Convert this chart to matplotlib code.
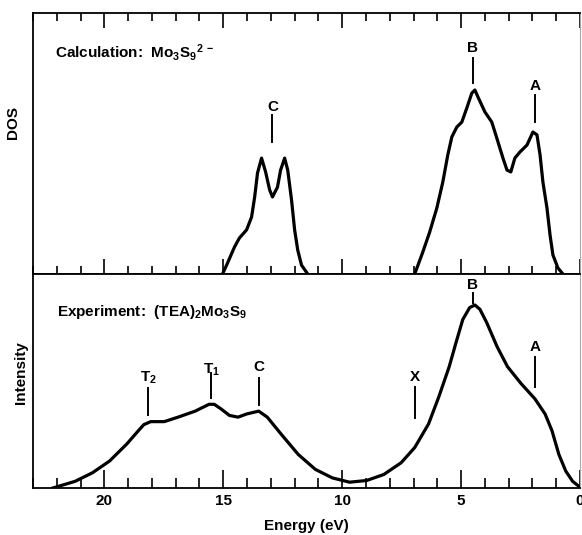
import matplotlib
matplotlib.use("Agg")
import matplotlib.pyplot as plt
from matplotlib.ticker import MultipleLocator

plt.rcParams['font.family'] = ['Liberation Sans', 'DejaVu Sans']
plt.rcParams['font.weight'] = 'bold'
plt.rcParams['mathtext.fontset'] = 'custom'
plt.rcParams['mathtext.rm'] = 'Liberation Sans:bold'
plt.rcParams['mathtext.it'] = 'Liberation Sans:bold'
plt.rcParams['mathtext.bf'] = 'Liberation Sans:bold'
plt.rcParams['mathtext.default'] = 'rm'

# ---- Calculation (DOS) ----
calc_C_E = [15.03, 14.82, 14.53, 14.32, 14.02, 13.81, 13.68, 13.56, 13.39, 13.22, 13.05, 12.93,
            12.72, 12.59, 12.42, 12.29, 12.13, 12.0, 11.87, 11.71, 11.45]
calc_C_y = [0.0, 0.042, 0.103, 0.138, 0.169, 0.218, 0.295, 0.387, 0.444, 0.391, 0.322, 0.295,
            0.333, 0.398, 0.444, 0.398, 0.284, 0.169, 0.092, 0.034, 0.0]
calc_BA_E = [6.95, 6.61, 6.32, 6.02, 5.77, 5.56, 5.39, 5.18, 4.97, 4.76, 4.55, 4.42, 4.29, 4.0,
             3.71, 3.5, 3.24, 3.07, 2.91, 2.74, 2.53, 2.23, 1.98, 1.81, 1.68, 1.56, 1.39, 1.26,
             1.14, 0.93, 0.72]
calc_BA_y = [0.0, 0.084, 0.161, 0.253, 0.352, 0.456, 0.525, 0.563, 0.582, 0.636, 0.693, 0.705,
             0.678, 0.621, 0.582, 0.521, 0.444, 0.398, 0.391, 0.444, 0.467, 0.494, 0.544, 0.533,
             0.456, 0.352, 0.253, 0.149, 0.073, 0.023, 0.0]

# ---- Experiment (Intensity) ----
exp_E = [22.16, 21.23, 20.5, 19.78, 19.06, 18.63, 18.34, 18.05, 17.48, 16.9, 16.18, 15.6, 15.38,
         15.1, 14.74, 14.38, 14.01, 13.51, 13.15, 12.57, 11.85, 11.13, 10.41, 9.69, 8.97, 8.25,
         7.52, 6.95, 6.37, 5.94, 5.5, 5.22, 4.93, 4.64, 4.42, 4.21, 3.92, 3.49, 3.05, 2.48, 1.9,
         1.47, 1.18, 0.89, 0.6, 0.31, 0.05]
exp_y = [0.0, 0.031, 0.071, 0.126, 0.205, 0.26, 0.296, 0.31, 0.31, 0.331, 0.359, 0.391, 0.391,
         0.37, 0.339, 0.331, 0.346, 0.359, 0.331, 0.252, 0.157, 0.087, 0.047, 0.027, 0.035, 0.063,
         0.118, 0.189, 0.299, 0.425, 0.567, 0.677, 0.787, 0.843, 0.855, 0.835, 0.772, 0.661,
         0.567, 0.488, 0.417, 0.346, 0.268, 0.157, 0.079, 0.031, 0.008]

# peak markers: label, energy, text y, line bottom, line top
calc_marks = [("C", 12.93, 0.64, 0.506, 0.609),
              ("B", 4.5, 0.866, 0.732, 0.828),
              ("A", 1.89, 0.72, 0.582, 0.686)]
exp_marks = [("T$_2$", 18.15, 0.514, 0.341, 0.467),
             ("T$_1$", 15.5, 0.551, 0.42, 0.537),
             ("C", 13.5, 0.565, 0.388, 0.514),
             ("X", 6.95, 0.519, 0.327, 0.472),
             ("B", 4.5, 0.949, 0.864, 0.911),
             ("A", 1.89, 0.659, 0.472, 0.612)]

xticks = [20, 15, 10, 5, 0]
xlabels = ["20", "15", "10", "5", "0"]

fig = plt.figure(figsize=(5.82, 5.35), dpi=100)
ax1 = fig.add_axes([0.0567, 0.4879, 0.9399, 0.4878])
ax2 = fig.add_axes([0.0567, 0.0879, 0.9399, 0.4000])

lw = 2.3
ax1.plot(calc_C_E, calc_C_y, color='black', lw=lw, solid_joinstyle='round')
ax1.plot(calc_BA_E, calc_BA_y, color='black', lw=lw, solid_joinstyle='round')
ax2.plot(exp_E, exp_y, color='black', lw=lw, solid_joinstyle='round')

for ax, marks in ((ax1, calc_marks), (ax2, exp_marks)):
    for lab, e, ty, y0, y1 in marks:
        ax.plot([e, e], [y0, y1], color='black', lw=1.4)
        ax.text(e, ty, lab, ha='center', va='center', fontsize=11, fontweight='bold')

for ax in (ax1, ax2):
    ax.set_xlim(23.0, 0.0)
    ax.set_ylim(0, 1)
    ax.set_yticks([])
    ax.xaxis.set_major_locator(MultipleLocator(5))
    ax.xaxis.set_minor_locator(MultipleLocator(1))
    for s in ('left', 'top', 'bottom'):
        ax.spines[s].set_linewidth(1.3)
    ax.spines['right'].set_linewidth(0.8)
    ax.spines['right'].set_color('#aaaaaa')

ax1.tick_params(axis='x', which='both', direction='in', top=True, bottom=True,
                labelbottom=False, width=1.2)
ax1.tick_params(axis='x', which='major', length=11)
ax1.tick_params(axis='x', which='minor', length=6)
ax2.tick_params(axis='x', which='both', direction='in', top=False, bottom=True, width=1.2)
ax2.tick_params(axis='x', which='major', length=13, pad=4, labelsize=11)
ax2.tick_params(axis='x', which='minor', length=7)
ax2.set_xticks(xticks)
ax2.set_xticklabels(xlabels, fontweight='bold')

ax1.text(0.04, 0.85, "Calculation:  Mo$_3$S$_9$$^{2\u2009\u2212}$", transform=ax1.transAxes,
         fontsize=11, fontweight='bold', ha='left', va='center')
ax2.text(0.044, 0.82, "Experiment:  (TEA)$_2$Mo$_3$S$_9$", transform=ax2.transAxes,
         fontsize=11, fontweight='bold', ha='left', va='center')

ax1.set_ylabel("DOS", fontsize=11, fontweight='bold')
ax1.yaxis.set_label_coords(-0.024, 0.58)
ax2.set_ylabel("Intensity", fontsize=11, fontweight='bold')
ax2.yaxis.set_label_coords(-0.01, 0.54)
ax2.set_xlabel("Energy (eV)", fontsize=11, fontweight='bold', labelpad=8)

fig.savefig("out.png", dpi=100)
